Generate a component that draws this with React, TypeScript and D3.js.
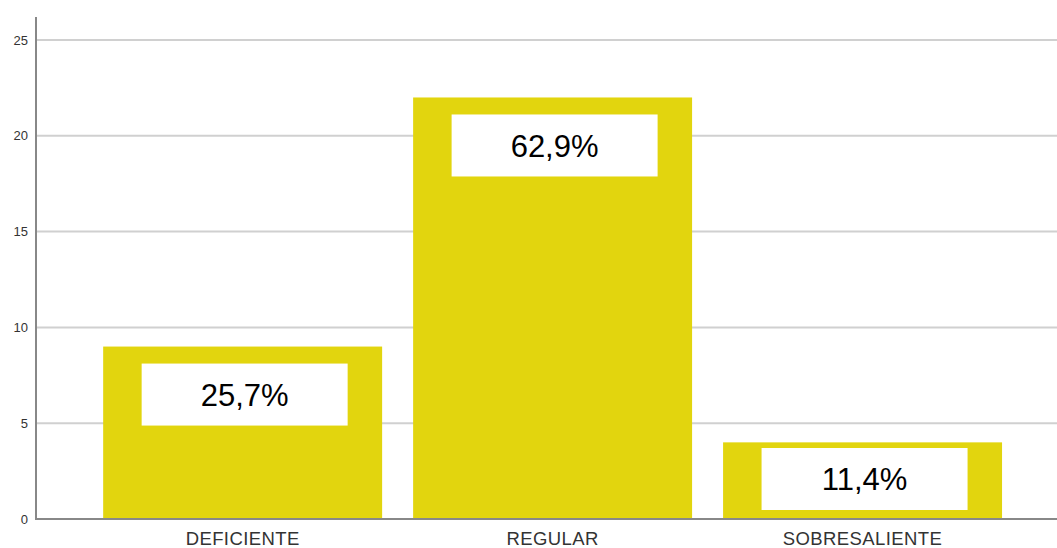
import React, { useEffect, useRef } from "react";
import * as d3 from "d3";

const categories = ["DEFICIENTE", "REGULAR", "SOBRESALIENTE"];
const counts = [9, 22, 4];
const percentLabels = ["25,7%", "62,9%", "11,4%"];
const yTicks = [0, 5, 10, 15, 20, 25];

const App = () => {
  const ref = useRef<SVGSVGElement>(null);

  useEffect(() => {
    const width = 1057;
    const height = 548;
    const svg = d3.select(ref.current);
    svg.selectAll("*").remove();
    svg.attr("width", width).attr("height", height);

    const left = 36;
    const bottom = 519;
    const top = 17;

    const y = d3.scaleLinear().domain([0, 26.2]).range([bottom, top]);
    const x = d3
      .scaleBand()
      .domain(categories)
      .range([left, width])
      .paddingInner(0.1)
      .paddingOuter(0.197)
      .align(0.55);

    // gridlines
    svg
      .append("g")
      .selectAll("line")
      .data(yTicks.filter((t) => t > 0))
      .enter()
      .append("line")
      .attr("x1", left)
      .attr("x2", width)
      .attr("y1", (d) => y(d))
      .attr("y2", (d) => y(d))
      .attr("stroke", "#d0d0d0")
      .attr("stroke-width", 2);

    // bars
    svg
      .append("g")
      .selectAll("rect")
      .data(counts)
      .enter()
      .append("rect")
      .attr("x", (d, i) => x(categories[i])!)
      .attr("y", (d) => y(d))
      .attr("width", x.bandwidth())
      .attr("height", (d) => bottom - y(d))
      .attr("fill", "#e2d50e");

    // label boxes
    const boxW = 206;
    const boxH = 62;
    const boxTop = (d: number) => Math.min(y(d) + 17, bottom - 9 - boxH);
    const lab = svg.append("g").selectAll("g").data(counts).enter().append("g");
    lab
      .append("rect")
      .attr("x", (d, i) => x(categories[i])! + x.bandwidth() / 2 - boxW / 2 + 2)
      .attr("y", (d) => boxTop(d))
      .attr("width", boxW)
      .attr("height", boxH)
      .attr("fill", "#ffffff");
    lab
      .append("text")
      .attr("x", (d, i) => x(categories[i])! + x.bandwidth() / 2 + 2)
      .attr("y", (d) => boxTop(d) + boxH / 2)
      .attr("dy", "0.36em")
      .attr("text-anchor", "middle")
      .style("font-family", "Liberation Sans, Arial, sans-serif")
      .style("font-size", "31px")
      .style("fill", "#000")
      .text((d, i) => percentLabels[i]);

    // y tick labels
    svg
      .append("g")
      .selectAll("text")
      .data(yTicks)
      .enter()
      .append("text")
      .attr("x", 28)
      .attr("y", (d) => y(d))
      .attr("dy", "0.35em")
      .attr("text-anchor", "end")
      .style("font-family", "Liberation Sans, Arial, sans-serif")
      .style("font-size", "13px")
      .style("fill", "#333")
      .text((d) => d);

    // axes lines
    svg
      .append("line")
      .attr("x1", left)
      .attr("x2", left)
      .attr("y1", top)
      .attr("y2", bottom + 1)
      .attr("stroke", "#888")
      .attr("stroke-width", 2);
    svg
      .append("line")
      .attr("x1", left)
      .attr("x2", width)
      .attr("y1", bottom)
      .attr("y2", bottom)
      .attr("stroke", "#888")
      .attr("stroke-width", 2);

    // category labels
    svg
      .append("g")
      .selectAll("text")
      .data(categories)
      .enter()
      .append("text")
      .attr("x", (d) => x(d)! + x.bandwidth() / 2)
      .attr("y", 545)
      .attr("text-anchor", "middle")
      .style("font-family", "Liberation Sans, Arial, sans-serif")
      .style("font-size", "18.5px")
      .style("letter-spacing", "0.4px")
      .style("fill", "#333")
      .text((d) => d);
  }, []);

  return (
    <div style={{ position: "absolute", left: 0, top: 0 }}>
      <svg ref={ref}></svg>
    </div>
  );
};

export default App;
